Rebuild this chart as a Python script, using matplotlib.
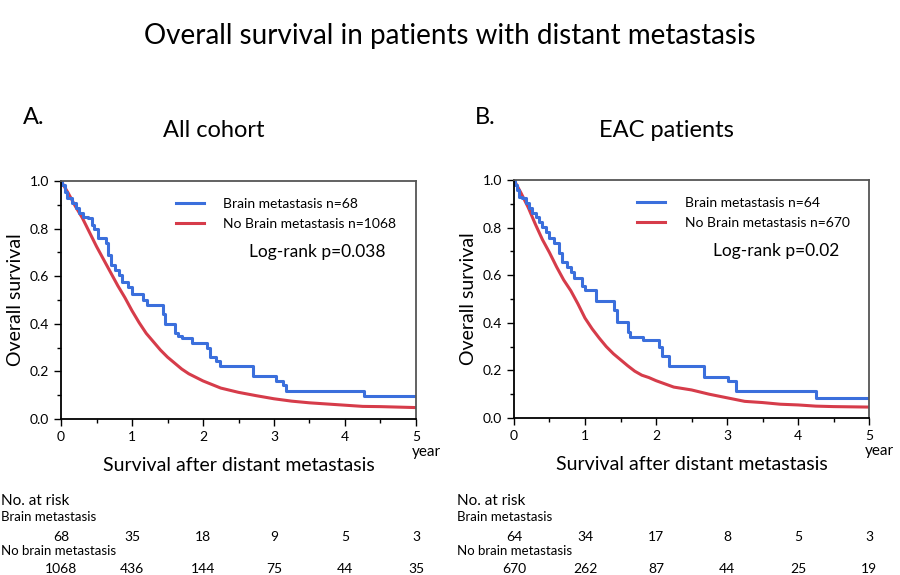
import matplotlib
matplotlib.use("Agg")
import matplotlib.pyplot as plt
from matplotlib.transforms import blended_transform_factory
from matplotlib.ticker import MultipleLocator

plt.rcParams['font.family'] = ['Lato', 'DejaVu Sans']

# A. All cohort
all_brain_t = [0, 0.02, 0.05, 0.09, 0.15, 0.21, 0.26, 0.31, 0.38, 0.43, 0.47, 0.52, 0.64, 0.66,
               0.71, 0.76, 0.81, 0.86, 0.95, 1.0, 1.16, 1.21, 1.43, 1.46, 1.61, 1.65, 1.70, 1.84,
               2.06, 2.10, 2.19, 2.24, 2.70, 3.03, 3.13, 3.17, 4.27, 5.0]
all_brain_s = [1.0, 0.983, 0.955, 0.927, 0.906, 0.885, 0.864, 0.85, 0.843, 0.815, 0.80, 0.76, 0.738,
               0.689, 0.647, 0.626, 0.605, 0.576, 0.555, 0.527, 0.50, 0.478, 0.443, 0.40, 0.36, 0.35,
               0.34, 0.321, 0.30, 0.261, 0.245, 0.222, 0.181, 0.16, 0.142, 0.119, 0.097, 0.097]
all_nobrain_t = [0, 0.1, 0.2, 0.3, 0.4, 0.5, 0.6, 0.7, 0.8, 0.9, 1.0, 1.1, 1.2, 1.3, 1.4, 1.5, 1.6,
                 1.7, 1.8, 1.9, 2.0, 2.25, 2.5, 2.75, 3.0, 3.25, 3.5, 3.75, 4.0, 4.25, 4.5, 4.75, 5.0]
all_nobrain_s = [1.0, 0.95, 0.895, 0.845, 0.785, 0.725, 0.67, 0.615, 0.56, 0.51, 0.455, 0.405, 0.36,
                 0.325, 0.29, 0.26, 0.235, 0.21, 0.19, 0.175, 0.16, 0.13, 0.112, 0.098, 0.085, 0.075,
                 0.068, 0.063, 0.058, 0.053, 0.052, 0.05, 0.048]

# B. EAC patients
eac_brain_t = [0, 0.02, 0.047, 0.07, 0.117, 0.165, 0.21, 0.26, 0.305, 0.35, 0.40, 0.445, 0.49, 0.56,
               0.63, 0.68, 0.75, 0.80, 0.845, 0.96, 1.0, 1.16, 1.41, 1.45, 1.60, 1.64, 1.81, 2.04,
               2.09, 2.18, 2.68, 3.02, 3.12, 4.26, 5.0]
eac_brain_s = [1.0, 0.98, 0.958, 0.93, 0.923, 0.902, 0.881, 0.86, 0.846, 0.825, 0.804, 0.783, 0.755,
               0.734, 0.692, 0.657, 0.636, 0.615, 0.59, 0.555, 0.54, 0.49, 0.455, 0.405, 0.363, 0.342,
               0.328, 0.30, 0.26, 0.22, 0.172, 0.154, 0.112, 0.084, 0.084]
eac_nobrain_t = [0, 0.1, 0.2, 0.3, 0.4, 0.5, 0.6, 0.7, 0.8, 0.9, 1.0, 1.1, 1.2, 1.3, 1.4, 1.5, 1.6,
                 1.7, 1.8, 1.9, 2.0, 2.25, 2.5, 2.75, 3.0, 3.25, 3.5, 3.75, 4.0, 4.25, 4.5, 5.0]
eac_nobrain_s = [1.0, 0.945, 0.885, 0.815, 0.75, 0.695, 0.635, 0.58, 0.535, 0.48, 0.42, 0.375, 0.336,
                 0.30, 0.27, 0.245, 0.22, 0.197, 0.18, 0.17, 0.157, 0.13, 0.118, 0.10, 0.085, 0.07,
                 0.065, 0.058, 0.055, 0.05, 0.048, 0.046]

risk_years = [0, 1, 2, 3, 4, 5]
all_risk_brain = [68, 35, 18, 9, 5, 3]
all_risk_nobrain = [1068, 436, 144, 75, 44, 35]
eac_risk_brain = [64, 34, 17, 8, 5, 3]
eac_risk_nobrain = [670, 262, 87, 44, 25, 19]

BLUE = "#3b6fdc"
RED = "#d63c4a"

panels = [
    dict(rect=[0.0678, 0.2713, 0.3944, 0.4139], letter="A.", letter_x=0.025, title="All cohort",
         brain=(all_brain_t, all_brain_s), nobrain=(all_nobrain_t, all_nobrain_s),
         n_brain=68, n_nobrain=1068, p="Log-rank p=0.038",
         risk_b=all_risk_brain, risk_nb=all_risk_nobrain, risk_x=0.0),
    dict(rect=[0.5711, 0.2730, 0.3945, 0.4139], letter="B.", letter_x=0.528, title="EAC patients",
         brain=(eac_brain_t, eac_brain_s), nobrain=(eac_nobrain_t, eac_nobrain_s),
         n_brain=64, n_nobrain=670, p="Log-rank p=0.02",
         risk_b=eac_risk_brain, risk_nb=eac_risk_nobrain, risk_x=0.507),
]

fig = plt.figure(figsize=(9, 5.75), dpi=100)
fig.text(0.5, 0.937, "Overall survival in patients with distant metastasis", ha="center", va="center",
         fontsize=20)

for p in panels:
    ax = fig.add_axes(p["rect"])
    ax.plot(p["nobrain"][0], p["nobrain"][1], color=RED, lw=2.2, label=f"No Brain metastasis n={p['n_nobrain']}")
    ax.plot(p["brain"][0], p["brain"][1], color=BLUE, lw=2.2, drawstyle="steps-post",
            label=f"Brain metastasis n={p['n_brain']}")
    ax.set_xlim(0, 5)
    ax.set_ylim(0, 1)
    ax.xaxis.set_major_locator(MultipleLocator(1))
    ax.xaxis.set_minor_locator(MultipleLocator(0.5))
    ax.yaxis.set_major_locator(MultipleLocator(0.2))
    ax.yaxis.set_minor_locator(MultipleLocator(0.1))
    ax.yaxis.set_major_formatter(matplotlib.ticker.FormatStrFormatter("%.1f"))
    ax.tick_params(which="both", direction="out", labelsize=10, width=1)
    ax.tick_params(which="major", length=5)
    ax.tick_params(which="minor", length=3)
    for s in ["top", "right"]:
        ax.spines[s].set_color("#555555")
    for s in ax.spines.values():
        s.set_linewidth(1.3)
    ax.set_ylabel("Overall survival", fontsize=14, labelpad=4)
    ax.set_xlabel("Survival after distant metastasis", fontsize=14, labelpad=10)
    ax.text(1.03, -0.14, "year", transform=ax.transAxes, ha="center", va="center", fontsize=11)
    h, l = ax.get_legend_handles_labels()
    ax.legend(h[::-1], l[::-1], loc="upper right", bbox_to_anchor=(0.98, 0.98), frameon=False,
              fontsize=10, handlelength=2.0, handletextpad=1.4, labelspacing=0.55)
    ax.text(0.915, 0.70, p["p"], transform=ax.transAxes, ha="right", va="center", fontsize=12.5)

    fig.text(p["letter_x"], 0.795, p["letter"], fontsize=17, ha="left", va="center")
    fig.text(p["rect"][0] + p["rect"][2] * 0.43, 0.773, p["title"], fontsize=17, ha="center", va="center")

    tr = blended_transform_factory(ax.transData, fig.transFigure)
    fig.text(p["risk_x"] + 0.001, 1 - 501 / 575, "No. at risk", fontsize=11, ha="left", va="center")
    fig.text(p["risk_x"] + 0.001, 1 - 517 / 575, "Brain metastasis", fontsize=9.5, ha="left", va="center")
    fig.text(p["risk_x"] + 0.001, 1 - 551 / 575, "No brain metastasis", fontsize=9.5, ha="left", va="center")
    for yr, nb, nn in zip(risk_years, p["risk_b"], p["risk_nb"]):
        ax.text(yr, 1 - 537 / 575, str(nb), transform=tr, ha="center", va="center", fontsize=10)
        ax.text(yr, 1 - 569 / 575, str(nn), transform=tr, ha="center", va="center", fontsize=10)

fig.savefig("out.png", dpi=100)
